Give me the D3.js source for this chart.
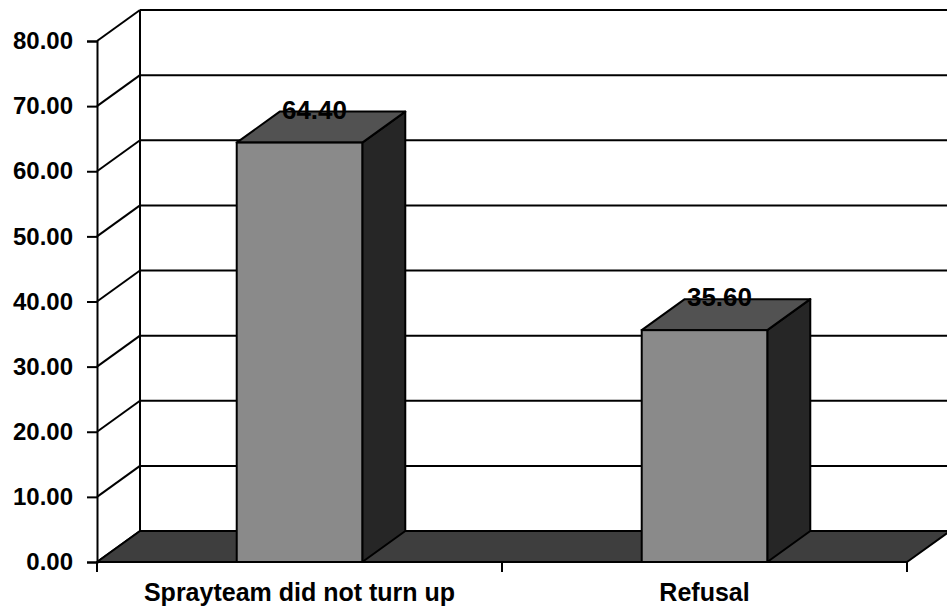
<!DOCTYPE html>
<html>
<head>
<meta charset="utf-8">
<script src="https://cdn.jsdelivr.net/npm/d3@7"></script>
<style>
  body { margin: 0; background: #fff; }
  svg text { font-family: "Liberation Sans", Arial, sans-serif; font-weight: bold; fill: #000; }
</style>
</head>
<body>
<div id="chart"></div>
<script>
// chart data
const categories = ['Sprayteam did not turn up', 'Refusal'];
const values = [64.40, 35.60];
const yTicks = [0, 10, 20, 30, 40, 50, 60, 70, 80];

const width = 947;
const height = 611;
// 3d depth offset
const depth = { dx: 43, dy: 31 };

const svg = d3.select('#chart').append('svg')
  .attr('width', width)
  .attr('height', height);

const x = d3.scaleBand()
  .domain(categories)
  .range([97, 907])
  .padding(0);

const y = d3.scaleLinear()
  .domain([0, 80])
  .range([562, 41]);

const barW = x.bandwidth() * 0.31;
const line = (pts) => 'M' + pts.map(p => p.join(',')).join('L') + 'Z';

// back wall gridlines
const back = svg.append('g').attr('class', 'back-wall');
back.selectAll('line.grid')
  .data(yTicks)
  .enter().append('line')
  .attr('class', 'grid')
  .attr('x1', x.range()[0] + depth.dx)
  .attr('x2', width)
  .attr('y1', d => y(d) - depth.dy)
  .attr('y2', d => y(d) - depth.dy)
  .attr('stroke', '#000')
  .attr('stroke-width', 2);

back.append('line')
  .attr('x1', x.range()[0] + depth.dx)
  .attr('x2', x.range()[0] + depth.dx)
  .attr('y1', y(80) - depth.dy)
  .attr('y2', y(0) - depth.dy)
  .attr('stroke', '#000')
  .attr('stroke-width', 2);

// side wall diagonals
back.selectAll('line.side')
  .data(yTicks)
  .enter().append('line')
  .attr('class', 'side')
  .attr('x1', x.range()[0])
  .attr('x2', x.range()[0] + depth.dx)
  .attr('y1', d => y(d))
  .attr('y2', d => y(d) - depth.dy)
  .attr('stroke', '#000')
  .attr('stroke-width', 2);

// floor
const x0 = x.range()[0], x1 = x.range()[1];
svg.append('path')
  .attr('d', line([[x0, y(0)], [x1, y(0)], [x1 + depth.dx, y(0) - depth.dy], [x0 + depth.dx, y(0) - depth.dy]]))
  .attr('fill', '#3e3e3e')
  .attr('stroke', '#000')
  .attr('stroke-width', 2)
  .attr('stroke-linejoin', 'round');

// bars
const bars = svg.append('g').attr('class', 'bars')
  .selectAll('g.bar')
  .data(categories.map((c, i) => ({ code: c, value: values[i] })))
  .enter().append('g')
  .attr('class', 'bar');

const bx = d => x(d.code) + (x.bandwidth() - barW) / 2;

// side face
bars.append('path')
  .attr('d', d => {
    const r = bx(d) + barW;
    return line([[r, y(d.value)], [r + depth.dx, y(d.value) - depth.dy], [r + depth.dx, y(0) - depth.dy], [r, y(0)]]);
  })
  .attr('fill', '#262626')
  .attr('stroke', '#000')
  .attr('stroke-width', 2)
  .attr('stroke-linejoin', 'round');

// top face
bars.append('path')
  .attr('d', d => {
    const l = bx(d), r = l + barW, t = y(d.value);
    return line([[l, t], [r, t], [r + depth.dx, t - depth.dy], [l + depth.dx, t - depth.dy]]);
  })
  .attr('fill', '#525252')
  .attr('stroke', '#000')
  .attr('stroke-width', 2)
  .attr('stroke-linejoin', 'round');

// front face
bars.append('rect')
  .attr('x', d => bx(d))
  .attr('y', d => y(d.value))
  .attr('width', barW)
  .attr('height', d => y(0) - y(d.value))
  .attr('fill', '#8a8a8a')
  .attr('stroke', '#000')
  .attr('stroke-width', 2);

// value labels
bars.append('text')
  .attr('x', d => x(d.code) + x.bandwidth() / 2 + 15)
  .attr('y', d => y(d.value) - depth.dy + 7)
  .attr('text-anchor', 'middle')
  .attr('font-size', '26px')
  .text(d => d.value.toFixed(2));

// y axis
const yAxis = d3.axisLeft(y)
  .tickValues(yTicks)
  .tickFormat(d3.format('.2f'))
  .tickSize(10)
  .tickPadding(14);

const ya = svg.append('g')
  .attr('class', 'y axis')
  .attr('transform', `translate(${x0},0)`)
  .call(yAxis);
ya.select('.domain').attr('stroke', '#000').attr('stroke-width', 2);
ya.selectAll('.tick line').attr('stroke', '#000').attr('stroke-width', 2);
ya.selectAll('.tick text').attr('font-size', '24px').attr('font-family', null);

// x axis line + boundary ticks
svg.append('line')
  .attr('x1', x0).attr('x2', x1)
  .attr('y1', y(0)).attr('y2', y(0))
  .attr('stroke', '#000').attr('stroke-width', 2);

const bounds = categories.map(c => x(c)).concat([x1]);
svg.selectAll('line.xtick')
  .data(bounds)
  .enter().append('line')
  .attr('class', 'xtick')
  .attr('x1', d => d).attr('x2', d => d)
  .attr('y1', y(0)).attr('y2', y(0) + 10)
  .attr('stroke', '#000').attr('stroke-width', 2);

svg.selectAll('text.xlabel')
  .data(categories)
  .enter().append('text')
  .attr('class', 'xlabel')
  .attr('x', d => x(d) + x.bandwidth() / 2)
  .attr('y', 601)
  .attr('text-anchor', 'middle')
  .attr('font-size', '25px')
  .text(d => d);
</script>
</body>
</html>
